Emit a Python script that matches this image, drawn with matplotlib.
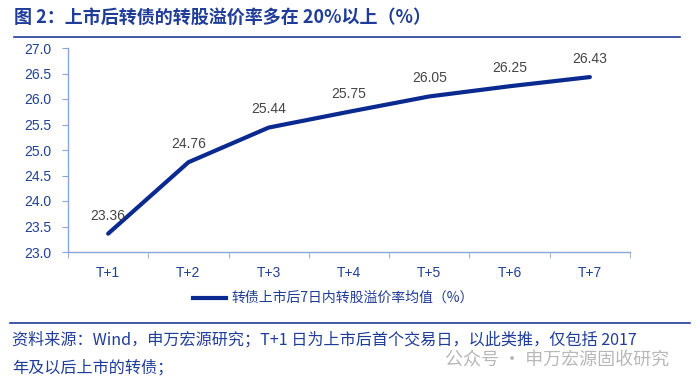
import matplotlib.pyplot as plt
from matplotlib.lines import Line2D

plt.rcParams['font.family'] = ['Noto Sans CJK SC', 'DejaVu Sans']

days = ['T+1', 'T+2', 'T+3', 'T+4', 'T+5', 'T+6', 'T+7']
premium = [23.36, 24.76, 25.44, 25.75, 26.05, 26.25, 26.43]
yticks = [23.0, 23.5, 24.0, 24.5, 25.0, 25.5, 26.0, 26.5, 27.0]

navy = '#0B2A8F'
tick_blue = '#1F3F9A'
spine_blue = '#88A6D6'
W, H = 700, 384

fig = plt.figure(figsize=(7, 3.84), dpi=100)

# 标题和分隔线
fig.text(14 / W, 1 - 17 / H, '图 2：上市后转债的转股溢价率多在 20%以上（%）',
         fontsize=13, fontweight='bold', color='#1F3C99', va='center', ha='left')
fig.add_artist(Line2D([14 / W, 680 / W], [1 - 37 / H, 1 - 37 / H], color='#1F3C99', lw=1.2))

ax = fig.add_axes([68 / W, 1 - 252 / H, (630 - 68) / W, (252 - 48) / H])
x = list(range(len(days)))
ax.plot(x, premium, color=navy, lw=3, solid_capstyle='round')
for xi, v in zip(x, premium):
    ax.annotate(f'{v:.2f}', (xi, v), xytext=(0, 8), textcoords='offset points',
                ha='center', va='bottom', fontsize=10, color='#444444', family='Liberation Sans')

ax.set_xlim(-0.5, 6.5)
ax.set_ylim(23.0, 27.0)
ax.set_yticks(yticks)
ax.set_yticklabels([f'{t:.1f}' for t in yticks])
ax.set_xticks(x)
ax.set_xticklabels(days)
ax.set_xticks([i - 0.5 for i in range(len(days) + 1)], minor=True)
ax.tick_params(axis='x', which='major', length=0, pad=10, labelsize=10, labelcolor=tick_blue)
ax.tick_params(axis='x', which='minor', length=4, color=spine_blue, direction='out')
ax.tick_params(axis='y', length=4, color=spine_blue, labelsize=10, labelcolor=tick_blue, pad=8)
for lbl in ax.get_xticklabels() + ax.get_yticklabels():
    lbl.set_family('Liberation Sans')
for s in ['top', 'right']:
    ax.spines[s].set_visible(False)
for s in ['left', 'bottom']:
    ax.spines[s].set_color(spine_blue)
    ax.spines[s].set_linewidth(1)

# 图例
fig.add_artist(Line2D([193 / W, 226 / W], [1 - 298 / H, 1 - 298 / H], color=navy, lw=3))
fig.text(231 / W, 1 - 298 / H, '转债上市后7日内转股溢价率均值（%）', fontsize=10,
         color='#1F3C99', va='center', ha='left')

# 底部说明
fig.add_artist(Line2D([10 / W, 690 / W], [1 - 323 / H, 1 - 323 / H], color='#1F3C99', lw=1.2))
fig.text(12 / W, 1 - 340 / H, '资料来源：Wind，申万宏源研究；T+1 日为上市后首个交易日，以此类推，仅包括 2017',
         fontsize=11.6, color='#1F3C99', va='center', ha='left')
fig.text(12 / W, 1 - 368 / H, '年及以后上市的转债；', fontsize=11.6, color='#1F3C99',
         va='center', ha='left')
fig.text(445 / W, 1 - 361 / H, '公众号 · 申万宏源固收研究', fontsize=13, color='#B8B8B8',
         va='center', ha='left')

fig.savefig('out.png', dpi=100)
